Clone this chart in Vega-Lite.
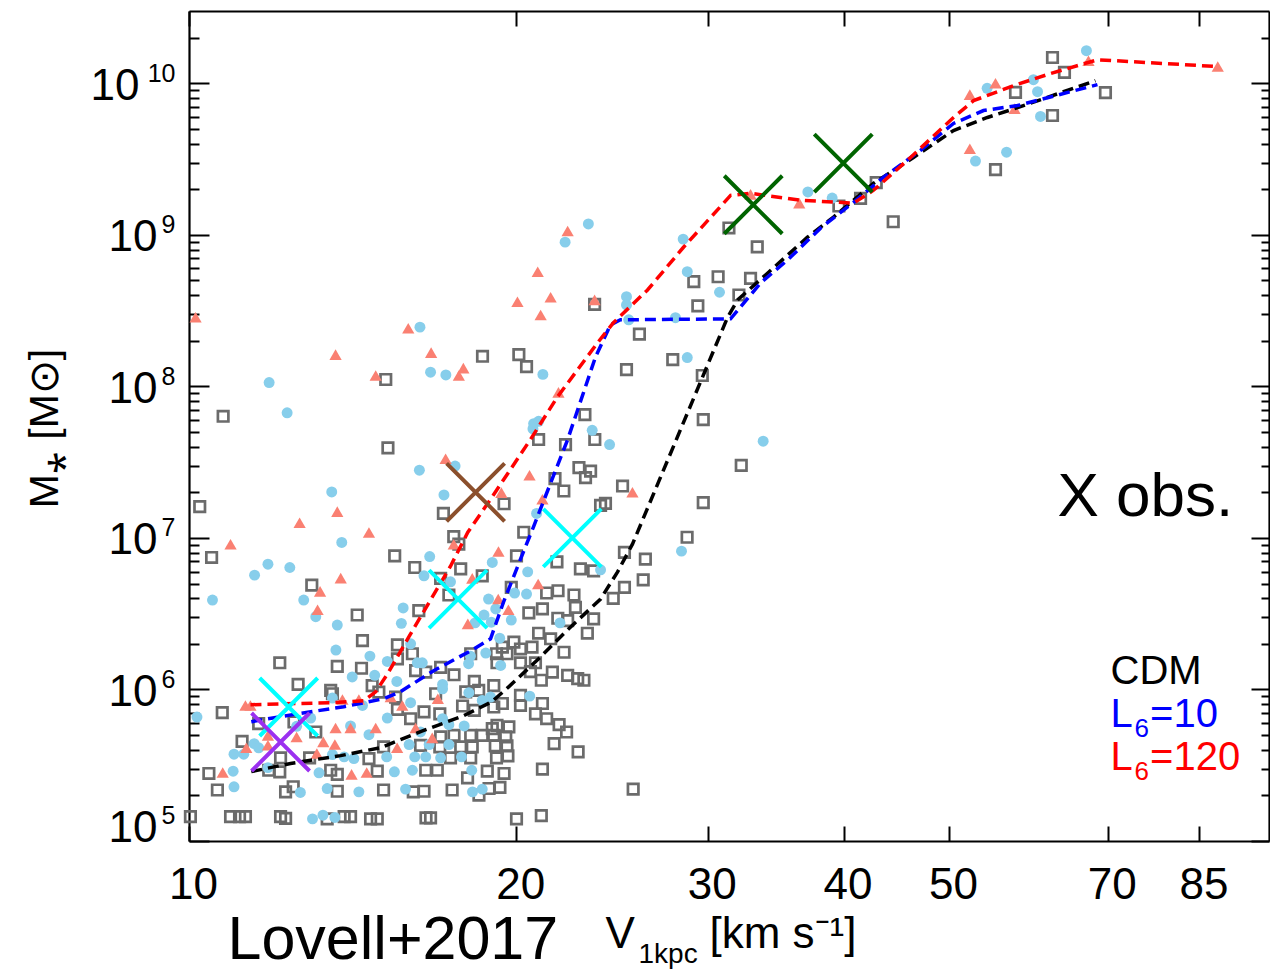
{
  "$schema": "https://vega.github.io/schema/vega-lite/v6.json",
  "width": 1080,
  "height": 830,
  "autosize": {"type": "none"},
  "padding": {"left": 189, "top": 11, "right": 1, "bottom": 131},
  "background": "white",
  "config": {
    "view": {"stroke": null},
    "font": "Liberation Sans",
    "axis": {"grid": false, "domainColor": "black", "tickColor": "black", "labelColor": "black", "titleColor": "black", "labelFont": "Liberation Sans", "titleFont": "Liberation Sans", "titleFontWeight": "normal", "labelFlush": false, "labelOverlap": false, "labelBound": false, "domainWidth": 2.2, "tickWidth": 2}
  },
  "resolve": {"axis": {"x": "independent", "y": "independent"}},
  "datasets": {
    "squares": [
      {"v":10.75,"m":6.35e7},{"v":10.23,"m":1.61e7},{"v":15.17,"m":1.11e8},{"v":15.24,"m":3.93e7},{"v":18.62,"m":1.58e8},{"v":20.11,"m":1.62e8},{"v":20.44,"m":1.35e8},{"v":23.61,"m":3.48e8},{"v":25.96,"m":2.21e8},{"v":25.26,"m":1.29e8},{"v":23.13,"m":6.51e7},{"v":20.97,"m":4.46e7},{"v":22.20,"m":4.13e7},{"v":23.62,"m":4.46e7},{"v":17.14,"m":1.45e7},{"v":19.49,"m":1.68e7},{"v":21.71,"m":2.46e7},{"v":22.12,"m":2.04e7},{"v":22.84,"m":2.91e7},{"v":23.41,"m":2.76e7},{"v":23.16,"m":2.50e7},{"v":25.05,"m":2.20e7},{"v":23.91,"m":1.64e7},{"v":24.16,"m":1.69e7},{"v":17.52,"m":1.02e7},{"v":20.32,"m":1.09e7},{"v":31.38,"m":1.11e9},{"v":33.32,"m":8.33e8},{"v":29.13,"m":4.91e8},{"v":30.67,"m":5.29e8},{"v":32.85,"m":5.16e8},{"v":32.05,"m":4.01e8},{"v":29.38,"m":3.40e8},{"v":27.86,"m":1.50e8},{"v":29.66,"m":1.18e8},{"v":29.72,"m":6.04e7},{"v":32.21,"m":3.01e7},{"v":29.72,"m":1.71e7},{"v":28.72,"m":1.01e7},{"v":42.87,"m":2.21e9},{"v":41.47,"m":1.74e9},{"v":39.61,"m":1.55e9},{"v":44.44,"m":1.22e9},{"v":55.19,"m":2.69e9},{"v":57.58,"m":8.72e9},{"v":62.27,"m":1.48e10},{"v":63.87,"m":1.18e10},{"v":62.27,"m":6.13e9},{"v":69.66,"m":8.69e9},
      {"v":10.49,"m":7.43e6},{"v":12.97,"m":4.88e6},{"v":14.28,"m":3.10e6},{"v":14.44,"m":2.10e6},{"v":13.69,"m":1.42e6},{"v":14.41,"m":1.38e6},{"v":12.12,"m":1.50e6},{"v":12.60,"m":1.08e6},{"v":13.50,"m":9.85e5},{"v":14.74,"m":1.06e6},{"v":15.46,"m":7.61e6},{"v":16.13,"m":6.38e6},{"v":15.55,"m":1.97e6},{"v":16.05,"m":1.72e6},{"v":16.27,"m":3.31e6},{"v":15.55,"m":1.59e6},{"v":16.16,"m":1.33e6},
      {"v":10.73,"m":7.03e5},{"v":13.55,"m":9.37e5},{"v":14.95,"m":9.61e5},{"v":15.49,"m":8.91e5},{"v":15.55,"m":7.38e5},{"v":15.99,"m":6.41e5},{"v":11.59,"m":5.95e5},{"v":12.49,"m":6.10e5},{"v":13.08,"m":5.24e5},{"v":11.19,"m":4.55e5},{"v":12.14,"m":3.54e5},{"v":12.91,"m":3.54e5},{"v":15.10,"m":4.18e5},{"v":14.64,"m":3.50e5},{"v":10.43,"m":2.79e5},{"v":11.84,"m":2.93e5},{"v":12.12,"m":2.86e5},{"v":13.50,"m":2.93e5},{"v":13.69,"m":2.75e5},{"v":14.90,"m":2.89e5},{"v":10.62,"m":2.17e5},{"v":12.27,"m":2.11e5},{"v":12.47,"m":2.28e5},{"v":13.69,"m":2.13e5},{"v":15.10,"m":2.17e5},{"v":16.08,"m":2.11e5},
      {"v":10.03,"m":1.45e5},{"v":10.92,"m":1.45e5},{"v":11.13,"m":1.45e5},{"v":11.27,"m":1.45e5},{"v":12.14,"m":1.45e5},{"v":12.27,"m":1.41e5},{"v":13.40,"m":1.40e5},{"v":13.89,"m":1.45e5},{"v":14.08,"m":1.45e5},{"v":14.69,"m":1.40e5},{"v":14.90,"m":1.40e5},{"v":16.52,"m":1.42e5},{"v":16.68,"m":1.42e5},{"v":20.01,"m":1.40e5},{"v":21.09,"m":1.47e5},
      {"v":16.45,"m":2.13e5},{"v":17.46,"m":2.17e5},{"v":18.48,"m":2.01e5},{"v":18.88,"m":2.22e5},{"v":19.32,"m":2.26e5},{"v":25.62,"m":2.20e5},
      {"v":16.86,"m":9.37e5},{"v":17.97,"m":9.65e5},{"v":18.47,"m":9.87e5},{"v":19.07,"m":7.66e5},{"v":19.42,"m":8.08e5},{"v":20.18,"m":9.13e5},{"v":20.18,"m":7.84e5},{"v":21.14,"m":8.08e5},{"v":20.83,"m":6.91e5},{"v":21.33,"m":6.41e5},{"v":21.90,"m":5.86e5},{"v":22.25,"m":5.24e5},{"v":21.67,"m":4.39e5},{"v":22.80,"m":3.87e5},{"v":21.14,"m":2.98e5},{"v":16.45,"m":7.11e5},{"v":17.01,"m":6.91e5},{"v":17.85,"m":7.78e5},{"v":18.30,"m":7.27e5},{"v":19.20,"m":5.80e5},{"v":19.69,"m":5.66e5},{"v":19.01,"m":5.51e5},{"v":18.16,"m":4.98e5},{"v":18.61,"m":4.98e5},{"v":19.07,"m":4.98e5},{"v":19.56,"m":4.86e5},{"v":17.04,"m":4.86e5},{"v":17.53,"m":4.98e5},{"v":16.33,"m":4.28e5},{"v":17.01,"m":4.18e5},{"v":17.78,"m":4.18e5},{"v":18.22,"m":4.18e5},{"v":19.13,"m":4.24e5},{"v":19.61,"m":4.24e5},{"v":17.40,"m":3.54e5},{"v":18.16,"m":3.54e5},{"v":19.18,"m":3.54e5},{"v":19.65,"m":3.65e5},{"v":16.51,"m":2.93e5},{"v":16.92,"m":2.93e5},{"v":18.04,"m":2.61e5},{"v":18.81,"m":2.89e5},{"v":19.49,"m":2.79e5},
      {"v":17.71,"m":9.09e6},{"v":17.78,"m":6.24e6},{"v":17.04,"m":5.41e6},{"v":18.61,"m":5.62e6},{"v":20.01,"m":7.61e6},{"v":19.79,"m":4.72e6},{"v":21.33,"m":4.33e6},{"v":21.85,"m":4.48e6},{"v":17.34,"m":4.20e6},{"v":20.54,"m":3.20e6},{"v":21.14,"m":3.40e6},{"v":22.60,"m":4.20e6},{"v":22.67,"m":3.48e6},{"v":21.84,"m":2.95e6},{"v":22.30,"m":2.85e6},{"v":23.56,"m":2.92e6},{"v":23.25,"m":2.35e6},{"v":20.97,"m":2.35e6},{"v":21.51,"m":2.16e6},{"v":24.56,"m":3.99e6},{"v":25.15,"m":4.72e6},{"v":25.15,"m":8.03e6},{"v":26.17,"m":5.29e6},{"v":26.29,"m":7.24e6},{"v":22.91,"m":6.24e6},{"v":23.56,"m":6.06e6},{"v":21.80,"m":6.95e6},{"v":19.90,"m":2.05e6},{"v":19.42,"m":1.90e6},{"v":19.61,"m":1.72e6},{"v":19.18,"m":1.72e6},{"v":20.18,"m":1.85e6},{"v":20.68,"m":1.90e6},{"v":22.13,"m":1.76e6},{"v":18.16,"m":1.72e6},{"v":19.20,"m":1.50e6},{"v":20.18,"m":1.50e6},{"v":20.83,"m":1.50e6},{"v":20.61,"m":1.31e6},{"v":21.59,"m":1.30e6},{"v":22.30,"m":1.24e6},{"v":23.08,"m":1.15e6},{"v":22.78,"m":1.18e6},{"v":21.09,"m":1.15e6},{"v":16.51,"m":1.30e6},{"v":17.04,"m":1.40e6},{"v":17.53,"m":1.25e6},{"v":18.30,"m":1.13e6},{"v":19.07,"m":1.06e6}
    ],
    "dots": [
      {"v":11.85,"m":1.06e8},{"v":12.31,"m":6.69e7},{"v":13.53,"m":2.01e7},{"v":16.31,"m":2.46e8},{"v":16.68,"m":1.24e8},{"v":17.23,"m":1.19e8},{"v":21.16,"m":1.20e8},{"v":22.18,"m":8.95e8},{"v":23.30,"m":1.18e9},{"v":25.26,"m":3.91e8},{"v":25.26,"m":3.45e8},{"v":25.38,"m":2.75e8},{"v":20.75,"m":5.68e7},{"v":20.97,"m":5.88e7},{"v":20.72,"m":5.24e7},{"v":23.49,"m":5.13e7},{"v":24.37,"m":4.13e7},{"v":17.57,"m":2.98e7},{"v":16.29,"m":2.80e7},{"v":17.16,"m":1.92e7},{"v":20.88,"m":1.45e7},{"v":28.48,"m":9.37e8},{"v":28.73,"m":5.71e8},{"v":30.76,"m":4.18e8},{"v":28.02,"m":2.84e8},{"v":28.73,"m":1.55e8},{"v":33.74,"m":4.35e7},{"v":37.09,"m":1.92e9},{"v":39.05,"m":1.75e9},{"v":54.22,"m":9.27e9},{"v":52.90,"m":3.07e9},{"v":56.50,"m":3.51e9},{"v":66.91,"m":1.64e10},{"v":59.81,"m":1.057e10},{"v":60.33,"m":8.8e9},{"v":60.71,"m":6.04e9},
      {"v":10.51,"m":3.89e6},{"v":11.49,"m":5.68e6},{"v":11.82,"m":6.71e6},{"v":12.38,"m":6.38e6},{"v":12.75,"m":3.89e6},{"v":13.08,"m":3.02e6},{"v":13.69,"m":2.66e6},{"v":13.65,"m":1.82e6},{"v":14.13,"m":1.21e6},{"v":14.67,"m":1.66e6},{"v":14.82,"m":1.24e6},{"v":15.22,"m":1.53e6},{"v":15.74,"m":3.45e6},{"v":15.68,"m":2.73e6},{"v":15.99,"m":2.0e6},{"v":16.22,"m":1.50e6},{"v":15.53,"m":1.13e6},{"v":13.82,"m":9.33e6},
      {"v":10.17,"m":6.58e5},{"v":13.55,"m":8.77e5},{"v":14.44,"m":7.84e5},{"v":15.99,"m":8.18e5},{"v":15.22,"m":6.48e5},{"v":12.56,"m":5.71e5},{"v":12.94,"m":6.48e5},{"v":14.08,"m":5.74e5},{"v":14.64,"m":5.03e5},{"v":11.48,"m":4.39e5},{"v":11.59,"m":4.12e5},{"v":11.00,"m":3.74e5},{"v":11.23,"m":3.74e5},{"v":13.55,"m":3.72e5},{"v":13.89,"m":3.59e5},{"v":14.18,"m":3.50e5},{"v":15.20,"m":3.59e5},{"v":15.94,"m":4.33e5},{"v":16.13,"m":3.59e5},{"v":10.98,"m":2.89e5},{"v":11.82,"m":3.05e5},{"v":13.17,"m":2.82e5},{"v":15.45,"m":2.86e5},{"v":16.05,"m":2.93e5},{"v":11.00,"m":2.28e5},{"v":12.66,"m":2.09e5},{"v":13.40,"m":2.22e5},{"v":14.33,"m":2.11e5},{"v":15.82,"m":2.20e5},{"v":12.99,"m":1.40e5},{"v":13.28,"m":1.48e5},{"v":13.62,"m":1.43e5},{"v":18.23,"m":2.11e5},{"v":18.61,"m":2.20e5},
      {"v":17.11,"m":1.01e6},{"v":18.09,"m":9.52e5},{"v":18.61,"m":8.46e5},{"v":18.94,"m":8.91e5},{"v":20.58,"m":9.04e5},{"v":17.11,"m":6.41e5},{"v":17.34,"m":5.86e5},{"v":17.91,"m":5.74e5},{"v":16.33,"m":5.24e5},{"v":16.63,"m":4.33e5},{"v":17.34,"m":4.33e5},{"v":16.51,"m":3.59e5},{"v":17.04,"m":3.54e5},{"v":17.81,"m":3.59e5},{"v":18.20,"m":2.93e5},
      {"v":16.65,"m":7.53e6},{"v":19.01,"m":6.89e6},{"v":16.45,"m":5.62e6},{"v":17.40,"m":5.13e6},{"v":20.49,"m":5.97e6},{"v":19.93,"m":4.33e6},{"v":20.44,"m":4.26e6},{"v":18.86,"m":3.95e6},{"v":19.15,"m":3.40e6},{"v":18.68,"m":3.10e6},{"v":18.33,"m":2.75e6},{"v":18.97,"m":2.78e6},{"v":19.79,"m":2.87e6},{"v":21.94,"m":2.75e6},{"v":23.91,"m":6.16e6},{"v":19.31,"m":2.18e6},{"v":18.15,"m":1.66e6},{"v":18.75,"m":1.74e6},{"v":18.08,"m":1.48e6},{"v":19.35,"m":1.44e6},{"v":16.39,"m":1.50e6},{"v":17.11,"m":1.08e6},{"v":28.38,"m":8.18e6}
    ],
    "tris": [
      {"v":10.14,"m":2.86e8},{"v":13.64,"m":1.62e8},{"v":13.69,"m":1.49e7},{"v":12.64,"m":1.26e7},{"v":14.64,"m":1.085e7},{"v":14.85,"m":1.18e8},{"v":15.91,"m":2.42e8},{"v":16.70,"m":1.67e8},{"v":17.71,"m":1.18e8},{"v":17.88,"m":1.32e8},{"v":22.30,"m":1.06e9},{"v":20.93,"m":5.71e8},{"v":20.05,"m":3.62e8},{"v":21.51,"m":3.87e8},{"v":21.06,"m":2.96e8},{"v":23.61,"m":3.72e8},{"v":21.87,"m":9.13e7},{"v":17.22,"m":3.33e7},{"v":19.38,"m":1.99e7},{"v":20.57,"m":2.59e7},{"v":25.58,"m":2.0e7},{"v":21.14,"m":1.80e7},{"v":32.85,"m":1.85e9},{"v":36.42,"m":1.62e9},{"v":55.19,"m":1.0e10},{"v":52.27,"m":8.42e9},{"v":57.46,"m":6.81e9},{"v":52.27,"m":3.70e9},{"v":67.20,"m":1.41e10},{"v":88.37,"m":1.29e10},
      {"v":10.92,"m":9.09e6},{"v":13.20,"m":4.44e6},{"v":13.79,"m":5.43e6},{"v":13.13,"m":3.36e6},
      {"v":11.27,"m":7.84e5},{"v":11.39,"m":7.84e5},{"v":13.84,"m":8.59e5},{"v":14.33,"m":8.59e5},{"v":15.33,"m":8.91e5},{"v":15.71,"m":7.84e5},{"v":13.64,"m":5.57e5},{"v":14.08,"m":5.57e5},{"v":14.85,"m":5.57e5},{"v":16.16,"m":5.57e5},{"v":11.82,"m":4.98e5},{"v":12.56,"m":4.86e5},{"v":11.29,"m":4.12e5},{"v":11.82,"m":4.28e5},{"v":13.29,"m":4.51e5},{"v":13.62,"m":4.33e5},{"v":13.11,"m":3.78e5},{"v":15.54,"m":4.12e5},{"v":10.74,"m":2.83e5},{"v":14.11,"m":2.75e5},{"v":14.57,"m":2.83e5},{"v":16.94,"m":8.69e5},{"v":16.74,"m":4.79e5},
      {"v":17.52,"m":9.09e6},{"v":19.26,"m":8.13e6},{"v":18.22,"m":5.41e6},{"v":20.95,"m":4.96e6},{"v":19.25,"m":3.95e6},{"v":19.67,"m":3.36e6},{"v":18.05,"m":2.71e6}
    ],
    "cdm": [
      {"v":11.41,"m":2.87e5},{"v":12.40,"m":3.25e5},{"v":13.79,"m":3.66e5},{"v":15.01,"m":4.13e5},{"v":16.33,"m":5.27e5},{"v":17.89,"m":6.71e5},{"v":18.98,"m":8.28e5},{"v":19.68,"m":1.04e6},{"v":20.96,"m":1.59e6},{"v":22.34,"m":2.51e6},{"v":23.91,"m":3.95e6},{"v":24.78,"m":5.95e6},{"v":25.58,"m":9.09e6},{"v":31.30,"m":2.87e8},{"v":31.96,"m":3.72e8},{"v":34.07,"m":5.6e8},{"v":37.06,"m":9.65e8},{"v":39.16,"m":1.31e9},{"v":42.63,"m":2.19e9},{"v":46.39,"m":3.24e9},{"v":50.49,"m":4.88e9},{"v":54.25,"m":5.95e9},{"v":57.83,"m":6.91e9},{"v":68.20,"m":1.04e10}
    ],
    "l10": [
      {"v":11.41,"m":6.13e5},{"v":12.59,"m":6.91e5},{"v":13.88,"m":7.69e5},{"v":15.11,"m":8.69e5},{"v":15.66,"m":9.7e5},{"v":16.79,"m":1.33e6},{"v":18.16,"m":1.80e6},{"v":18.94,"m":2.16e6},{"v":19.47,"m":3.78e6},{"v":20.18,"m":7.24e6},{"v":20.74,"m":1.18e7},{"v":22.30,"m":4.46e7},{"v":23.66,"m":1.57e8},{"v":24.42,"m":2.55e8},{"v":24.94,"m":2.75e8},{"v":31.49,"m":2.79e8},{"v":33.55,"m":4.81e8},{"v":35.52,"m":6.81e8},{"v":38.10,"m":1.107e9},{"v":40.86,"m":1.64e9},{"v":43.54,"m":2.40e9},{"v":47.09,"m":3.61e9},{"v":50.49,"m":5.43e9},{"v":53.80,"m":6.61e9},{"v":57.83,"m":7.13e9},{"v":68.49,"m":9.8e9}
    ],
    "l120": [
      {"v":11.39,"m":7.93e5},{"v":13.50,"m":8.18e5},{"v":14.48,"m":8.42e5},{"v":14.85,"m":9.65e5},{"v":15.23,"m":1.27e6},{"v":15.93,"m":2.22e6},{"v":16.33,"m":3.01e6},{"v":17.40,"m":6.51e6},{"v":18.05,"m":1.09e7},{"v":18.94,"m":1.80e7},{"v":20.61,"m":4.46e7},{"v":21.83,"m":8.55e7},{"v":23.76,"m":1.94e8},{"v":24.57,"m":2.63e8},{"v":26.41,"m":4.33e8},{"v":28.50,"m":8.28e8},{"v":31.49,"m":1.82e9},{"v":32.85,"m":1.88e9},{"v":36.52,"m":1.69e9},{"v":40.86,"m":1.62e9},{"v":42.63,"m":1.97e9},{"v":46.10,"m":3.24e9},{"v":50.49,"m":5.95e9},{"v":52.69,"m":7.69e9},{"v":57.35,"m":9.65e9},{"v":62.01,"m":1.16e10},{"v":68.49,"m":1.43e10},{"v":88.37,"m":1.29e10}
    ],
    "obs": [
      {"v":18.35,"m":2.0e7,"g":"A"},{"v":22.52,"m":1.0e7,"g":"B"},{"v":17.68,"m":3.95e6,"g":"B"},{"v":12.35,"m":7.66e5,"g":"B"},{"v":12.14,"m":4.5e5,"g":"C"},{"v":33.04,"m":1.58e9,"g":"D"},{"v":39.98,"m":2.97e9,"g":"D"}
    ]
  },
  "layer": [
    {
      "data": {"name": "squares"},
      "mark": {"type": "point", "shape": "square", "filled": false, "stroke": "#6b6b6b", "strokeWidth": 2.7, "size": 110, "opacity": 1},
      "encoding": {
        "x": {"field": "v", "type": "quantitative", "scale": {"type": "log", "domain": [10, 98.5], "nice": false},
          "axis": {"orient": "bottom", "values": [10, 20, 30, 40, 50, 70, 85], "labelExpr": "format(datum.value, 'd')", "tickSize": -15, "labelFontSize": 44, "labelPadding": 37, "labelOffset": 4, "domain": true,
            "title": "Lovell+2017", "titleFontSize": 61, "titleX": 38, "titleY": 117, "titleAlign": "left", "titleAnchor": "start", "titleBaseline": "alphabetic"}},
        "y": {"field": "m", "type": "quantitative", "scale": {"type": "log", "domain": [100000, 30000000000], "nice": false},
          "axis": {"orient": "left", "values": [100000, 1000000, 10000000, 100000000, 1000000000, 10000000000], "tickSize": -20, "domain": true,
            "labelExpr": "'10'", "labelFontSize": 44, "labelAlign": "right", "labelBaseline": "middle",
            "labelPadding": {"condition": {"test": "datum.value >= 1e10", "value": 70}, "value": 52},
            "labelOffset": {"condition": {"test": "datum.value < 2e5", "value": -13}, "value": 3},
            "title": "M\u204e [M\u2299]", "titleFontSize": 41, "titleX": -144, "titleY": 417, "titleAngle": 270, "titleAlign": "center", "titleBaseline": "middle"}}
      }
    },
    {
      "data": {"name": "dots"},
      "mark": {"type": "point", "shape": "circle", "filled": true, "color": "#87ceeb", "size": 120, "opacity": 1},
      "encoding": {
        "x": {"field": "v", "type": "quantitative", "scale": {"type": "log", "domain": [10, 98.5], "nice": false},
          "axis": {"orient": "top", "values": [10, 20, 30, 40, 50, 70, 85], "tickSize": -15, "labels": false, "domain": true, "title": null}},
        "y": {"field": "m", "type": "quantitative", "scale": {"type": "log", "domain": [100000, 30000000000], "nice": false},
          "axis": {"orient": "right", "values": [100000, 1000000, 10000000, 100000000, 1000000000, 10000000000], "tickSize": -18, "labels": false, "domain": true, "title": null}}
      }
    },
    {
      "data": {"name": "tris"},
      "mark": {"type": "point", "shape": "triangle-up", "filled": true, "color": "#fa8072", "size": 150, "opacity": 1},
      "encoding": {
        "x": {"field": "v", "type": "quantitative", "scale": {"type": "log", "domain": [10, 98.5], "nice": false},
          "axis": {"orient": "bottom", "ticks": false, "labels": false, "domain": false, "title": "V", "titleFontSize": 44, "titleX": 416, "titleY": 106, "titleAlign": "left", "titleAnchor": "start", "titleBaseline": "alphabetic"}},
        "y": {"field": "m", "type": "quantitative", "scale": {"type": "log", "domain": [100000, 30000000000], "nice": false},
          "axis": {"orient": "left", "values": [200000, 300000, 400000, 500000, 600000, 700000, 800000, 900000, 2000000, 3000000, 4000000, 5000000, 6000000, 7000000, 8000000, 9000000, 20000000, 30000000, 40000000, 50000000, 60000000, 70000000, 80000000, 90000000, 200000000, 300000000, 400000000, 500000000, 600000000, 700000000, 800000000, 900000000, 2000000000, 3000000000, 4000000000, 5000000000, 6000000000, 7000000000, 8000000000, 9000000000, 20000000000], "tickSize": -10, "labels": false, "domain": false, "title": null}}
      }
    },
    {
      "data": {"name": "cdm"},
      "mark": {"type": "line", "color": "black", "strokeWidth": 3.5, "strokeDash": [11, 6]},
      "encoding": {
        "x": {"field": "v", "type": "quantitative", "scale": {"type": "log", "domain": [10, 98.5], "nice": false},
          "axis": {"orient": "bottom", "ticks": false, "labels": false, "domain": false, "title": "1kpc", "titleFontSize": 28, "titleX": 449, "titleY": 121, "titleAlign": "left", "titleAnchor": "start", "titleBaseline": "alphabetic"}},
        "y": {"field": "m", "type": "quantitative", "scale": {"type": "log", "domain": [100000, 30000000000], "nice": false},
          "axis": {"orient": "right", "values": [200000, 300000, 400000, 500000, 600000, 700000, 800000, 900000, 2000000, 3000000, 4000000, 5000000, 6000000, 7000000, 8000000, 9000000, 20000000, 30000000, 40000000, 50000000, 60000000, 70000000, 80000000, 90000000, 200000000, 300000000, 400000000, 500000000, 600000000, 700000000, 800000000, 900000000, 2000000000, 3000000000, 4000000000, 5000000000, 6000000000, 7000000000, 8000000000, 9000000000, 20000000000], "tickSize": -8, "labels": false, "domain": false, "title": null}}
      }
    },
    {
      "data": {"name": "l10"},
      "mark": {"type": "line", "color": "#0000ff", "strokeWidth": 3.5, "strokeDash": [11, 6]},
      "encoding": {
        "x": {"field": "v", "type": "quantitative", "scale": {"type": "log", "domain": [10, 98.5], "nice": false},
          "axis": {"orient": "bottom", "ticks": false, "labels": false, "domain": false, "title": "[km s\u207b\u00b9]", "titleFontSize": 44, "titleX": 520, "titleY": 106, "titleAlign": "left", "titleAnchor": "start", "titleBaseline": "alphabetic"}},
        "y": {"field": "m", "type": "quantitative", "scale": {"type": "log", "domain": [100000, 30000000000], "nice": false},
          "axis": {"orient": "left", "values": [100000, 1000000, 10000000, 100000000, 1000000000, 10000000000], "ticks": false, "domain": false,
            "labelExpr": "'' + round(log(datum.value) / LN10)", "labelFontSize": 25, "labelPadding": 14, "labelAlign": "right", "labelBaseline": "middle",
            "labelOffset": {"condition": {"test": "datum.value < 2e5", "value": -26}, "value": -10}, "title": null}}
      }
    },
    {
      "data": {"name": "l120"},
      "mark": {"type": "line", "color": "#ff0000", "strokeWidth": 3.5, "strokeDash": [11, 6]},
      "encoding": {
        "x": {"field": "v", "type": "quantitative", "scale": {"type": "log", "domain": [10, 98.5], "nice": false}, "axis": null},
        "y": {"field": "m", "type": "quantitative", "scale": {"type": "log", "domain": [100000, 30000000000], "nice": false}, "axis": null}
      }
    },
    {
      "mark": {"type": "rule", "color": "black", "strokeWidth": 2, "strokeDash": [2, 4]},
      "encoding": {
        "y": {"datum": 10000000, "type": "quantitative", "scale": {"type": "log", "domain": [100000, 30000000000], "nice": false}, "axis": null}
      }
    },
    {
      "data": {"name": "obs"},
      "mark": {"type": "point", "shape": "M-1,-1L1,1M-1,1L1,-1", "filled": false, "strokeWidth": 4, "size": 3364, "opacity": 1},
      "encoding": {
        "x": {"field": "v", "type": "quantitative", "scale": {"type": "log", "domain": [10, 98.5], "nice": false}, "axis": null},
        "y": {"field": "m", "type": "quantitative", "scale": {"type": "log", "domain": [100000, 30000000000], "nice": false}, "axis": null},
        "color": {"field": "g", "type": "nominal", "scale": {"domain": ["A", "B", "C", "D"], "range": ["#8b4f2c", "#00ffff", "#9b30f0", "#006400"]}, "legend": null}
      }
    },
    {
      "data": {"values": [{"v": 62.94, "m": 13900000, "t": "X obs."}]},
      "mark": {"type": "text", "align": "left", "baseline": "alphabetic", "fontSize": 62, "font": "Liberation Sans", "color": "black"},
      "encoding": {
        "x": {"field": "v", "type": "quantitative", "scale": {"type": "log", "domain": [10, 98.5], "nice": false}, "axis": null},
        "y": {"field": "m", "type": "quantitative", "scale": {"type": "log", "domain": [100000, 30000000000], "nice": false}, "axis": null},
        "text": {"field": "t"}
      }
    },
    {
      "data": {"values": [{"v": 70.41, "m": 1090000, "t": "CDM"}]},
      "mark": {"type": "text", "align": "left", "baseline": "alphabetic", "fontSize": 40, "font": "Liberation Sans", "color": "black"},
      "encoding": {
        "x": {"field": "v", "type": "quantitative", "scale": {"type": "log", "domain": [10, 98.5], "nice": false}, "axis": null},
        "y": {"field": "m", "type": "quantitative", "scale": {"type": "log", "domain": [100000, 30000000000], "nice": false}, "axis": null},
        "text": {"field": "t"}
      }
    },
    {
      "data": {"values": [{"v": 70.41, "m": 568000, "t": "L"}, {"v": 76.56, "m": 568000, "t": "=10"}]},
      "mark": {"type": "text", "align": "left", "baseline": "alphabetic", "fontSize": 40, "font": "Liberation Sans", "color": "#0000ff"},
      "encoding": {
        "x": {"field": "v", "type": "quantitative", "scale": {"type": "log", "domain": [10, 98.5], "nice": false}, "axis": null},
        "y": {"field": "m", "type": "quantitative", "scale": {"type": "log", "domain": [100000, 30000000000], "nice": false}, "axis": null},
        "text": {"field": "t"}
      }
    },
    {
      "data": {"values": [{"v": 74.07, "m": 488000, "t": "6"}]},
      "mark": {"type": "text", "align": "left", "baseline": "alphabetic", "fontSize": 26, "font": "Liberation Sans", "color": "#0000ff"},
      "encoding": {
        "x": {"field": "v", "type": "quantitative", "scale": {"type": "log", "domain": [10, 98.5], "nice": false}, "axis": null},
        "y": {"field": "m", "type": "quantitative", "scale": {"type": "log", "domain": [100000, 30000000000], "nice": false}, "axis": null},
        "text": {"field": "t"}
      }
    },
    {
      "data": {"values": [{"v": 70.41, "m": 292000, "t": "L"}, {"v": 76.56, "m": 292000, "t": "=120"}]},
      "mark": {"type": "text", "align": "left", "baseline": "alphabetic", "fontSize": 40, "font": "Liberation Sans", "color": "#ff0000"},
      "encoding": {
        "x": {"field": "v", "type": "quantitative", "scale": {"type": "log", "domain": [10, 98.5], "nice": false}, "axis": null},
        "y": {"field": "m", "type": "quantitative", "scale": {"type": "log", "domain": [100000, 30000000000], "nice": false}, "axis": null},
        "text": {"field": "t"}
      }
    },
    {
      "data": {"values": [{"v": 74.07, "m": 251000, "t": "6"}]},
      "mark": {"type": "text", "align": "left", "baseline": "alphabetic", "fontSize": 26, "font": "Liberation Sans", "color": "#ff0000"},
      "encoding": {
        "x": {"field": "v", "type": "quantitative", "scale": {"type": "log", "domain": [10, 98.5], "nice": false}, "axis": null},
        "y": {"field": "m", "type": "quantitative", "scale": {"type": "log", "domain": [100000, 30000000000], "nice": false}, "axis": null},
        "text": {"field": "t"}
      }
    }
  ]
}
